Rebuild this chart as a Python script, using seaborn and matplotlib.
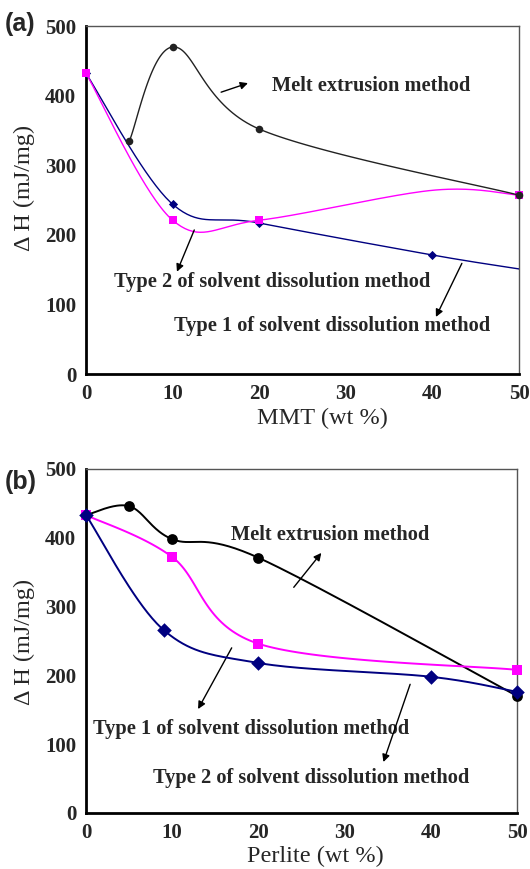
import numpy as np
import matplotlib
matplotlib.use("Agg")
import matplotlib.pyplot as plt
import seaborn as sns

# (a) MMT composites
mmt_melt_x = [5, 10, 20, 50]
mmt_melt_y = [335, 470, 352, 257]
mmt_pink_x = [0, 10, 20, 40, 50]
mmt_pink_y = [432, 221, 221, 264, 257]
mmt_pink_mark = [True, True, True, False, True]
mmt_navy_x = [0, 10, 20, 40, 50]
mmt_navy_y = [432, 244, 217, 171, 151]
mmt_navy_mark = [True, True, True, True, False]

# (b) Perlite composites
per_melt_x = [0, 5, 10, 20, 50]
per_melt_y = [433, 446, 398, 371, 170]
per_pink_x = [0, 10, 20, 50]
per_pink_y = [433, 372, 246, 208]
per_navy_x = [0, 9, 20, 40, 50]
per_navy_y = [433, 266, 218, 198, 176]

x_ticks = [0, 10, 20, 30, 40, 50]
y_ticks = [0, 100, 200, 300, 400, 500]

sns.set_style("white")
plt.rcParams["font.family"] = ["Liberation Serif", "DejaVu Serif"]

BLACK = "black"
PINK = "#ff00ff"
NAVY = "#000080"


def smooth(ax, xs, ys, n=40):
    # excel-like smoothed line (catmull-rom in screen space)
    pts = ax.transData.transform(np.column_stack([xs, ys]))
    p = np.vstack([pts[0], pts, pts[-1]])
    t = np.linspace(0, 1, n)[:, None]
    segs = []
    for i in range(1, len(p) - 2):
        p0, p1, p2, p3 = p[i - 1], p[i], p[i + 1], p[i + 2]
        seg = 0.5 * (2 * p1 + (p2 - p0) * t
                     + (2 * p0 - 5 * p1 + 4 * p2 - p3) * t ** 2
                     + (-p0 + 3 * p1 - 3 * p2 + p3) * t ** 3)
        segs.append(seg)
    out = ax.transData.inverted().transform(np.vstack(segs))
    return out[:, 0], out[:, 1]


def series(ax, xs, ys, color, marker, size, lw, mark=None, z=3):
    sx, sy = smooth(ax, xs, ys)
    sns.lineplot(x=sx, y=sy, sort=False, estimator=None, color=color,
                 lw=lw, ax=ax, legend=False, zorder=z)
    if mark is None:
        mark = [True] * len(xs)
    mx = [x for x, m in zip(xs, mark) if m]
    my = [y for y, m in zip(ys, mark) if m]
    sns.scatterplot(x=mx, y=my, marker=marker, s=size, color=color,
                    edgecolor=color, linewidth=0, ax=ax, legend=False,
                    clip_on=False, zorder=z + 1)


def setup(ax, xlabel, tag, xlab_pos, ylab_pos, tag_y):
    ax.set_xlim(0, 50)
    ax.set_ylim(0, 500)
    ax.set_xticks(x_ticks)
    ax.set_yticks(y_ticks)
    ax.tick_params(direction="in", length=4, width=0.8, color="#777777",
                   labelsize=15, pad=7)
    for lab in ax.get_xticklabels() + ax.get_yticklabels():
        lab.set_fontweight("bold")
    for side in ["left", "bottom"]:
        ax.spines[side].set_linewidth(2)
        ax.spines[side].set_color("black")
    for side in ["top", "right"]:
        ax.spines[side].set_linewidth(1)
        ax.spines[side].set_color("#555555")
    ax.set_xlabel(xlabel, fontsize=17.5)
    ax.set_ylabel("\u0394 H (mJ/mg)", fontsize=17.5)
    ax.xaxis.set_label_coords(*xlab_pos)
    ax.yaxis.set_label_coords(*ylab_pos)
    ax.text(-0.188, tag_y, tag, transform=ax.transAxes, fontsize=18,
            fontweight="bold", family="Liberation Sans", ha="left", va="center")


def note(ax, text, x, y):
    ax.text(x, y, text, fontsize=14.7, fontweight="bold", ha="left",
            va="center")


def arrow(ax, tail, head):
    ax.annotate("", xy=head, xytext=tail,
                arrowprops=dict(arrowstyle="-|>", color="black", lw=1,
                                mutation_scale=11, shrinkA=0, shrinkB=0))


fig = plt.figure(figsize=(5.30, 8.69), dpi=100)

# ---- panel (a)
ax1 = fig.add_axes([0.1623, 0.5696, 0.8170, 0.4004])
setup(ax1, "MMT (wt %)", "(a)", (0.545, -0.098), (-0.118, 0.534), 1.005)
series(ax1, mmt_navy_x, mmt_navy_y, NAVY, "D", 22, 1.0, mmt_navy_mark)
series(ax1, mmt_pink_x, mmt_pink_y, PINK, "s", 30, 1.0, mmt_pink_mark)
series(ax1, mmt_melt_x, mmt_melt_y, "#222222", "o", 30, 1.0, z=5)
note(ax1, "Melt extrusion method", 21.5, 414)
arrow(ax1, (15.6, 405), (18.7, 418))
note(ax1, "Type 2 of solvent dissolution method", 3.2, 132)
arrow(ax1, (12.5, 207), (10.5, 147))
note(ax1, "Type 1 of solvent dissolution method", 10.2, 69)
arrow(ax1, (43.4, 159), (40.4, 82))

# ---- panel (b)
ax2 = fig.add_axes([0.1623, 0.0645, 0.8132, 0.3958])
setup(ax2, "Perlite (wt %)", "(b)", (0.531, -0.097), (-0.118, 0.497), 0.962)
series(ax2, per_melt_x, per_melt_y, BLACK, "o", 60, 1.4)
series(ax2, per_pink_x, per_pink_y, PINK, "s", 60, 1.4)
series(ax2, per_navy_x, per_navy_y, NAVY, "D", 55, 1.4, z=5)
note(ax2, "Melt extrusion method", 16.8, 404)
arrow(ax2, (24.1, 328), (27.3, 378))
note(ax2, "Type 1 of solvent dissolution method", 0.8, 122)
arrow(ax2, (16.9, 240), (13.0, 151))
note(ax2, "Type 2 of solvent dissolution method", 7.8, 51)
arrow(ax2, (37.6, 187), (34.5, 74))

fig.savefig("out.png", dpi=100)
